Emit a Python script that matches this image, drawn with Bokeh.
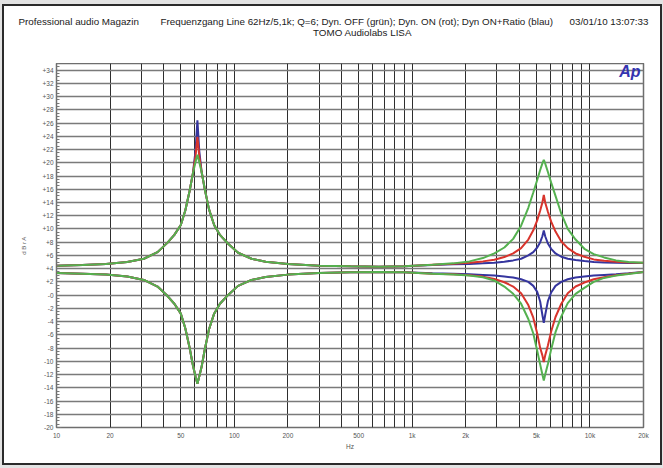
from bokeh.plotting import figure
from bokeh.models import FixedTicker, Label, Range1d
from bokeh.core.properties import value
from bokeh.layouts import column, row
from bokeh.embed import file_html
from bokeh.resources import INLINE

# ---- data ----
freq = [10, 14, 19, 25, 31, 37, 42, 46, 50, 53, 56, 58.5, 60.5, 62, 63.5, 65.5, 68, 72, 77, 83,
        92, 105, 125, 150, 200, 300, 450, 650, 900, 1300, 1700, 2100, 2500, 2900, 3300, 3700, 4100, 4500, 4800, 5050,
        5250, 5400, 5500, 5600, 5800, 6050, 6400, 6900, 7500, 8300, 9300, 10500, 12000, 14000, 16500, 20000]

green_boost = [4.45, 4.55, 4.7, 5.0, 5.5, 6.5, 7.9, 9.1, 10.6, 12.8, 15.7, 18.4, 20.1, 21.2, 20.1, 18.6, 16.2, 13.0, 10.6, 9.1,
               7.8, 6.4, 5.5, 5.05, 4.7, 4.45, 4.35, 4.3, 4.35, 4.6, 4.8, 5.1, 5.6, 6.3, 7.2, 8.5, 10.5, 13.2, 15.5, 17.4,
               18.9, 19.9, 20.45, 19.9, 18.6, 17.0, 15.0, 12.3, 10.0, 8.4, 7.0, 6.2, 5.7, 5.25, 5.0, 4.9]
green_cut = [3.35, 3.25, 3.1, 2.8, 2.3, 1.3, -0.1, -1.3, -2.8, -5.0, -7.9, -10.6, -12.3, -13.4, -12.3, -10.8, -8.4, -5.2, -2.8, -1.3,
             0.0, 1.4, 2.3, 2.75, 3.1, 3.35, 3.45, 3.5, 3.45, 3.25, 3.1, 2.95, 2.7, 2.2, 1.3, 0.2, -1.3, -3.6, -5.8, -8.4,
             -10.5, -12.0, -12.9, -12.0, -10.4, -8.2, -5.6, -3.2, -1.2, 0.2, 1.1, 2.0, 2.6, 2.95, 3.2, 3.5]
red_boost = [4.45, 4.55, 4.7, 5.0, 5.5, 6.5, 7.9, 9.1, 10.6, 12.8, 15.7, 18.4, 21.0, 23.9, 21.0, 18.6, 16.2, 13.0, 10.6, 9.1,
             7.8, 6.4, 5.5, 5.05, 4.7, 4.45, 4.35, 4.3, 4.35, 4.6, 4.75, 4.9, 5.1, 5.35, 5.75, 6.3, 7.1, 8.4, 9.8, 11.3,
             12.8, 14.0, 15.15, 14.0, 12.6, 11.1, 9.6, 8.1, 7.1, 6.3, 5.8, 5.4, 5.2, 5.05, 4.95, 4.9]
red_cut = [3.35, 3.25, 3.1, 2.8, 2.3, 1.3, -0.1, -1.3, -2.8, -5.0, -7.9, -10.6, -12.3, -13.4, -12.3, -10.8, -8.4, -5.2, -2.8, -1.3,
           0.0, 1.4, 2.3, 2.75, 3.1, 3.35, 3.45, 3.5, 3.45, 3.25, 3.15, 3.0, 2.8, 2.45, 1.95, 1.3, 0.3, -1.5, -3.4, -5.8,
           -8.0, -9.1, -10.1, -9.1, -7.6, -5.5, -3.3, -1.3, 0.3, 1.3, 1.9, 2.4, 2.7, 3.0, 3.25, 3.5]
blue_boost = [4.45, 4.55, 4.7, 5.0, 5.5, 6.5, 7.9, 9.1, 10.6, 12.8, 15.7, 18.4, 21.8, 26.4, 21.8, 18.6, 16.2, 13.0, 10.6, 9.1,
              7.8, 6.4, 5.5, 5.05, 4.7, 4.45, 4.35, 4.3, 4.35, 4.55, 4.65, 4.7, 4.8, 4.9, 5.05, 5.25, 5.5, 6.0, 6.5, 7.2,
              8.0, 8.9, 9.75, 8.9, 7.8, 7.0, 6.3, 5.8, 5.5, 5.3, 5.15, 5.0, 4.95, 4.9, 4.85, 4.85]
blue_cut = [3.35, 3.25, 3.1, 2.8, 2.3, 1.3, -0.1, -1.3, -2.8, -5.0, -7.9, -10.6, -12.3, -13.4, -12.3, -10.8, -8.4, -5.2, -2.8, -1.3,
            0.0, 1.4, 2.3, 2.75, 3.1, 3.35, 3.45, 3.5, 3.45, 3.3, 3.25, 3.15, 3.05, 2.95, 2.8, 2.65, 2.4, 2.0, 1.4, 0.5,
            -1.0, -3.0, -4.2, -3.0, -0.9, 0.4, 1.4, 2.0, 2.4, 2.65, 2.8, 2.95, 3.05, 3.15, 3.3, 3.5]

x_grid_ticks = [10, 20, 30, 40, 50, 60, 70, 80, 90, 100, 200, 300, 400, 500, 600, 700, 800, 900,
                1000, 2000, 3000, 4000, 5000, 6000, 7000, 8000, 9000, 10000, 20000]
x_label_ticks = [10, 20, 50, 100, 200, 500, 1000, 2000, 5000, 10000, 20000]
x_label_text = ["10", "20", "50", "100", "200", "500", "1k", "2k", "5k", "10k", "20k"]
y_ticks = list(range(-20, 35, 2))
y_label_text = [("+%d" % v) if v > 0 else ("-0" if v == 0 else "%d" % v) for v in y_ticks]

header_texts = ["Professional audio Magazin",
                "Frequenzgang Line 62Hz/5,1k; Q=6; Dyn. OFF (grün); Dyn. ON (rot); Dyn ON+Ratio (blau)",
                "03/01/10 13:07:33",
                "TOMO Audiolabs LISA"]
header_x = [14, 156, 565, 358]
header_y = [15, 15, 15, 26]
header_align = ["left", "left", "left", "center"]

FONT = "Liberation Sans"
W = 656

# ---- header strip ----
h = figure(width=W, height=57, x_range=Range1d(0, W), y_range=Range1d(57, 0),
           output_backend="svg", toolbar_location=None,
           x_axis_location=None, y_axis_location=None,
           min_border_left=0, min_border_right=0, min_border_top=0, min_border_bottom=0)
h.outline_line_color = None
h.grid.visible = False
h.background_fill_color = "white"
h.border_fill_color = "white"
for t, x, y, a in zip(header_texts, header_x, header_y, header_align):
    h.text(x=[x], y=[y], text=[t], text_font=value(FONT), text_font_size="9.8px",
           text_color="#1a1a1a", text_align=a, text_baseline="middle")

# ---- main plot ----
p = figure(width=W, height=400, x_axis_type="log",
           x_range=Range1d(10, 20000), y_range=Range1d(-20, 35),
           output_backend="svg", toolbar_location=None,
           min_border_left=52, min_border_right=17, min_border_top=0, min_border_bottom=36)
p.background_fill_color = "white"
p.border_fill_color = "white"
p.outline_line_color = "#6e6e6e"
p.outline_line_width = 1.5

xa = p.xaxis[0]
xa.ticker = FixedTicker(ticks=x_label_ticks, minor_ticks=[])
xa.major_label_overrides = {t: s for t, s in zip(x_label_ticks, x_label_text)}
xa.major_tick_in = 0
xa.major_tick_out = 0
xa.minor_tick_in = 0
xa.minor_tick_out = 0
xa.axis_line_color = None
xa.axis_label = "Hz"
xa.axis_label_text_font = FONT
xa.axis_label_text_font_style = "normal"
xa.axis_label_text_font_size = "6.5px"
xa.axis_label_text_color = "#555555"
xa.axis_label_standoff = 1
xa.major_label_text_font = FONT
xa.major_label_text_font_size = "6.5px"
xa.major_label_text_color = "#555555"
xa.major_label_standoff = 4

ya = p.yaxis[0]
minor = [(-20 + 0.5 * i) for i in range(0, 111)]
ya.ticker = FixedTicker(ticks=y_ticks, minor_ticks=minor)
ya.major_label_overrides = {t: s for t, s in zip(y_ticks, y_label_text)}
ya.major_tick_in = 5
ya.major_tick_out = 0
ya.minor_tick_in = 3
ya.minor_tick_out = 0
ya.major_tick_line_color = "#777777"
ya.minor_tick_line_color = "#777777"
ya.axis_line_color = None
ya.axis_label = "d B r A"
ya.axis_label_text_font = FONT
ya.axis_label_text_font_style = "normal"
ya.axis_label_text_font_size = "6px"
ya.axis_label_text_color = "#555555"
ya.axis_label_standoff = 12
ya.major_label_text_font = FONT
ya.major_label_text_font_size = "6.5px"
ya.major_label_text_color = "#555555"
ya.major_label_standoff = 3

p.xgrid.ticker = FixedTicker(ticks=x_grid_ticks)
p.xgrid.grid_line_color = "#2e2e2e"
p.xgrid.grid_line_width = 1
p.ygrid.grid_line_color = "#7a7a7a"
p.ygrid.grid_line_width = 1.6

GREEN = "#55b150"
RED = "#d8342c"
BLUE = "#35359e"
for ys, c in [(blue_boost, BLUE), (blue_cut, BLUE), (red_boost, RED), (red_cut, RED),
              (green_boost, GREEN), (green_cut, GREEN)]:
    p.line(freq, ys, line_color=c, line_width=2)

p.add_layout(Label(x=584, y=356, x_units="screen", y_units="screen", text="Ap",
                   text_font=FONT, text_font_size="16px", text_font_style="bold italic",
                   text_color="#3434b0", text_align="right", text_baseline="middle"))

inner = column(row(h), p, spacing=0, styles={"border": "2px solid #2b2b2b", "background-color": "white"})
layout = column(inner, styles={"background-color": "#e3e3e3", "padding": "4px 3px 5px 2px"})

open("out.html", "w").write(file_html(layout, INLINE))
